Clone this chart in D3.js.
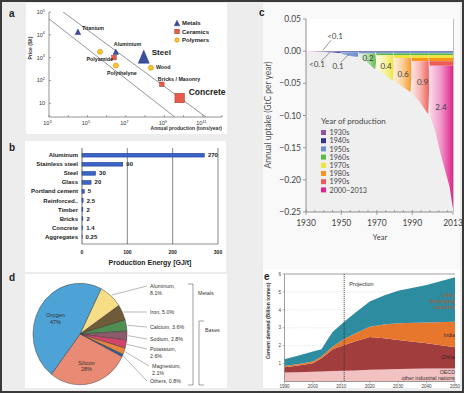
<!DOCTYPE html>
<html><head><meta charset="utf-8">
<script src="https://cdn.jsdelivr.net/npm/d3@7"></script>
<style>body{margin:0;background:#ededed}svg{display:block}</style>
</head><body><svg id="fig" width="464" height="393"></svg>
<script>
// ---------------- DATA ----------------
// Panel a: price vs annual production
const matNames = ["Titanium","Aluminium","Steel","Polyamide","Ceramic","Polythelyne","Wood","Bricks / Masonry","Concrete"];
const matClass = ["Metals","Metals","Metals","Polymers","Ceramics","Polymers","Polymers","Ceramics","Ceramics"];
const matProduction = [3.2e4, 3.0e6, 8.5e7, 4.5e5, 2.4e6, 3.0e6, 2.0e8, 7.4e8, 6.3e9];
const matPrice = [1.35e4, 1.8e3, 1.1e3, 1.8e3, 1.0e3, 4.5e2, 3.6e2, 68, 17];
const trendUpper = [[5.4e3, 1e5], [1.45e11, 2.5]];
const trendLower = [[1e3, 5e4], [3.5e9, 2.5]];
const classNames = ["Metals","Ceramics","Polymers"];
const aXTicks = [3,5,7,9,11];
const aYTicks = [1,2,3,4,5];

// Panel b: production energy
const energyMaterials = ["Aluminum","Stainless steel","Steel","Glass","Portland cement","Reinforced..","Timber","Bricks","Concrete","Aggregates"];
const energyValues = [270, 90, 30, 20, 5, 2.5, 2, 2, 1.4, 0.25];
const energyLabels = ["270","90","30","20","5","2.5","2","2","1.4","0.25"];
const energyTicks = [0, 100, 200, 300];

// Panel c: annual uptake by year of production (GtC per year)
const uptakeYears = [1930,1934,1939,1940,1944,1949,1950,1954,1959,1960,1964,1969,1970,1974,1979,1980,1984,1989,1990,1994,1999,2000,2003,2006,2009,2011,2013];
const cohortNames = ["1930s","1940s","1950s","1960s","1970s","1980s","1990s","2000–2013"];
const cohortStart = [1930,1940,1950,1960,1970,1980,1990,2000];
const cohortEnd = [1940,1950,1960,1970,1980,1990,2000,2013];
const cohortTotals = ["<0.1","<0.1","0.1","0.2","0.4","0.6","0.9","2.4"];
const u1930s = [0,-0.0005,-0.001,-0.0005,-0.0005,-0.0005,-0.0005,-0.0005,-0.0005,-0.0005,-0.0005,-0.0005,-0.0005,-0.0005,-0.0005,-0.0005,-0.0005,-0.0005,-0.0005,-0.0005,-0.0005,-0.0005,-0.0005,-0.0005,-0.0005,-0.0005,-0.0005];
const u1940s = [0,0,0,-0.0007,-0.001,-0.0025,-0.001,-0.001,-0.001,-0.001,-0.001,-0.001,-0.001,-0.001,-0.001,-0.001,-0.001,-0.001,-0.001,-0.001,-0.001,-0.001,-0.001,-0.001,-0.001,-0.001,-0.001];
const u1950s = [0,0,0,0,0,0,-0.0025,-0.0055,-0.0075,-0.002,-0.002,-0.002,-0.002,-0.002,-0.002,-0.002,-0.002,-0.002,-0.002,-0.002,-0.002,-0.002,-0.002,-0.002,-0.002,-0.002,-0.002];
const u1960s = [0,0,0,0,0,0,0,0,0,-0.0065,-0.0125,-0.0245,-0.003,-0.003,-0.003,-0.003,-0.003,-0.003,-0.003,-0.003,-0.003,-0.003,-0.003,-0.003,-0.003,-0.003,-0.003];
const u1970s = [0,0,0,0,0,0,0,0,0,0,0,0,-0.0225,-0.0295,-0.0395,-0.004,-0.004,-0.004,-0.004,-0.004,-0.004,-0.004,-0.004,-0.004,-0.004,-0.004,-0.004];
const u1980s = [0,0,0,0,0,0,0,0,0,0,0,0,0,0,0,-0.0365,-0.0435,-0.0535,-0.005,-0.005,-0.005,-0.005,-0.005,-0.005,-0.005,-0.005,-0.005];
const u1990s = [0,0,0,0,0,0,0,0,0,0,0,0,0,0,0,0,0,0,-0.0505,-0.0625,-0.0825,-0.007,-0.007,-0.007,-0.007,-0.007,-0.007];
const u2000s = [0,0,0,0,0,0,0,0,0,0,0,0,0,0,0,0,0,0,0,0,0,-0.0775,-0.1025,-0.1375,-0.1675,-0.1875,-0.2225];
const cYTicks = [0.05, 0, -0.05, -0.10, -0.15, -0.20, -0.25];
const cXTicks = [1930, 1950, 1970, 1990, 2013];

// Panel d: composition of Earth's crust
const pieNames = ["Aluminum","Iron","Calcium","Sodium","Potassium","Magnesium","Others","Silicon","Oxygen"];
const pieValues = [8.1, 5.0, 3.6, 2.8, 2.6, 2.1, 0.8, 28, 47];
const pieLabels = ["8.1%","5.0%","3.6%","2.8%","2.6%","2.1%","0.8%","28%","47%"];

// Panel e: cement demand (billion tonnes)
const demandYears = [1990,1995,2000,2003,2005,2007,2011,2015,2020,2025,2030,2040,2050];
const demandOECD  = [0.50,0.52,0.55,0.56,0.57,0.58,0.60,0.62,0.65,0.67,0.70,0.72,0.72];
const demandChina = [0.29,0.38,0.47,0.74,0.98,1.22,1.44,1.63,1.83,1.75,1.62,1.41,1.19];
const demandIndia = [0.08,0.08,0.10,0.10,0.13,0.15,0.33,0.45,0.58,0.76,0.93,1.17,1.43];
const demandOther = [0.37,0.47,0.55,0.40,0.62,0.83,0.97,1.15,1.40,1.62,1.82,2.09,2.48];
const eYTicks = [1,2,3,4,5,6];
const eXTicks = [1990,2000,2010,2020,2030,2040,2050];
const projectionYear = 2011;

// ---------------- DRAW ----------------
const svg = d3.select("#fig");
const defs = svg.append("defs");
svg.append("rect").attr("width",464).attr("height",393).attr("fill","#ededed");
[[26,3,201,131,"#fff"],[25,141,201,131,"#fff"],[263,3,197,298,"#f9f9f9"],[25,274,202,114,"#fff"],[263,269,197,119,"#fff"]]
  .forEach(p=>svg.append("rect").attr("x",p[0]).attr("y",p[1]).attr("width",p[2]).attr("height",p[3]).attr("fill",p[4]));

const AR = "Liberation Sans, Arial, sans-serif";
function plabel(t,x,y){svg.append("text").attr("x",x).attr("y",y).text(t).attr("font-family",AR).attr("font-weight","bold").attr("font-size",10).attr("fill","#222");}
plabel("a",9,17); plabel("b",9,151); plabel("c",259,16); plabel("d",9,281); plabel("e",264,280);

// ===== Panel a =====
(function(){
  const g = svg.append("g").attr("font-family",AR);
  const x = d3.scaleLog().domain([1e3,1e12]).range([49,222]);
  const y = d3.scaleLog().domain([2.5,1e5]).range([117,12]);
  defs.append("clipPath").attr("id","clipA").append("rect").attr("x",49).attr("y",12).attr("width",173).attr("height",105);
  const line = d3.line().x(d=>x(d[0])).y(d=>y(d[1]));
  [trendUpper,trendLower].forEach(t=>g.append("path").attr("d",line(t)).attr("clip-path","url(#clipA)")
      .attr("stroke","#8a8a8a").attr("stroke-width",0.9).attr("fill","none"));
  g.append("line").attr("x1",49).attr("x2",49).attr("y1",12).attr("y2",117).attr("stroke","#666").attr("stroke-width",0.7);
  g.append("line").attr("x1",49).attr("x2",222).attr("y1",117).attr("y2",117).attr("stroke","#666").attr("stroke-width",0.7);
  d3.range(3,13).forEach(e=>g.append("line").attr("x1",x(Math.pow(10,e))).attr("x2",x(Math.pow(10,e))).attr("y1",117).attr("y2",115).attr("stroke","#666").attr("stroke-width",0.6));
  d3.range(1,6).forEach(e=>g.append("line").attr("x1",49).attr("x2",51).attr("y1",y(Math.pow(10,e))).attr("y2",y(Math.pow(10,e))).attr("stroke","#666").attr("stroke-width",0.6));
  aXTicks.forEach(e=>{
    const t=g.append("text").attr("x",x(Math.pow(10,e))-1.5).attr("y",125).attr("text-anchor","middle").attr("font-size",5.5).attr("fill","#333");
    t.append("tspan").text("10"); t.append("tspan").attr("dy",-2.5).attr("font-size",4).text(e);
  });
  aYTicks.forEach(e=>{
    const t=g.append("text").attr("x",45).attr("y",y(Math.pow(10,e))+2).attr("text-anchor","end").attr("font-size",5.5).attr("fill","#333");
    t.append("tspan").text("10"); if(e>1){ t.append("tspan").attr("dy",-2.5).attr("font-size",4).text(e); }
  });
  g.append("text").attr("transform","translate(32,48) rotate(-90)").attr("text-anchor","middle").attr("font-size",5).attr("font-weight","bold").attr("fill","#333").text("Price ($/t)");
  g.append("text").attr("x",222).attr("y",130).attr("text-anchor","end").attr("font-size",5).attr("font-weight","bold").attr("fill","#333").text("Annual production (tons/year)");

  const sty = {Metals:{fill:"#3a4ea3",stroke:"#27346e"},Ceramics:{fill:"#e85a4c",stroke:"#a83428"},Polymers:{fill:"#f8c627",stroke:"#d58a12"}};
  const big = {Steel:[11,13],Concrete:[9.5,9.5]};
  function marker(cls,cx,cy,sz){
    const s=sty[cls];
    if(cls==="Metals"){const w=sz[0],h=sz[1];
      g.append("path").attr("d",`M${cx-w/2},${cy+h/2}L${cx+w/2},${cy+h/2}L${cx},${cy-h/2}Z`).attr("fill",s.fill).attr("stroke",s.stroke).attr("stroke-width",0.5);}
    else if(cls==="Ceramics"){const w=sz[0];
      g.append("rect").attr("x",cx-w/2).attr("y",cy-w/2).attr("width",w).attr("height",w).attr("fill",s.fill).attr("stroke",s.stroke).attr("stroke-width",0.5);}
    else g.append("circle").attr("cx",cx).attr("cy",cy).attr("r",sz[0]/2).attr("fill",s.fill).attr("stroke",s.stroke).attr("stroke-width",0.6);
  }
  matNames.forEach((n,i)=>{
    const cls=matClass[i];
    const sz = big[n] || (cls==="Metals"?[5.5,5.5]:cls==="Ceramics"?[4.5]:[5]);
    marker(cls,x(matProduction[i]),y(matPrice[i]),sz);
  });
  const lab = {
    "Titanium":[4,-2,"start",5.3], "Aluminium":[-2,-6,"start",5.3], "Steel":[8,-2,"start",8],
    "Polyamide":[13,9,"end",5.3], "Polythelyne":[6,9,"middle",5.3], "Wood":[5,1,"start",5.3],
    "Bricks / Masonry":[-4,-3,"start",5.3], "Concrete":[9,-3,"start",8.5]};
  matNames.forEach((n,i)=>{ const l=lab[n]; if(!l) return;
    g.append("text").attr("x",x(matProduction[i])+l[0]).attr("y",y(matPrice[i])+l[1]).attr("text-anchor",l[2])
     .attr("font-size",l[3]).attr("font-weight","bold").attr("fill","#222").text(n);
  });
  classNames.forEach((c,i)=>{
    const ly=23+i*8.5;
    marker(c,177,ly,c==="Metals"?[5.5,5.5]:[4.5]);
    g.append("text").attr("x",182).attr("y",ly+2).attr("font-size",6).attr("font-weight","bold").attr("fill","#222").text(c);
  });
})();

// ===== Panel b =====
(function(){
  const g = svg.append("g").attr("font-family",AR);
  const x = d3.scaleLinear().domain([0,300]).range([82,218]);
  const y = d3.scaleBand().domain(energyMaterials).range([148,244]).padding(0.58);
  energyTicks.forEach(t=>g.append("line").attr("x1",x(t)).attr("x2",x(t)).attr("y1",148).attr("y2",244).attr("stroke",t===0?"#444":"#555").attr("stroke-width",t===0?0.8:0.7));
  g.append("line").attr("x1",x(0)).attr("x2",x(300)).attr("y1",244).attr("y2",244).attr("stroke","#444").attr("stroke-width",0.6);
  g.selectAll("rect.bar").data(energyValues).enter().append("rect").attr("class","bar")
    .attr("x",x(0)).attr("y",(d,i)=>y(energyMaterials[i])).attr("width",d=>x(d)-x(0)).attr("height",y.bandwidth())
    .attr("fill","#3a63c6").attr("stroke","#1d3d8f").attr("stroke-width",0.5);
  energyMaterials.forEach((m,i)=>{
    const cy=y(m)+y.bandwidth()/2+2;
    g.append("text").attr("x",78).attr("y",cy).attr("text-anchor","end").attr("font-size",6).attr("font-weight","bold").attr("fill","#222").text(m);
    g.append("text").attr("x",x(energyValues[i])+3.5).attr("y",cy).attr("font-size",6).attr("font-weight","bold").attr("fill","#222").text(energyLabels[i]);
  });
  energyTicks.forEach(t=>g.append("text").attr("x",x(t)).attr("y",254).attr("text-anchor","middle").attr("font-size",5).attr("font-weight","bold").attr("fill","#222").text(t));
  g.append("text").attr("x",150).attr("y",265).attr("text-anchor","middle").attr("font-size",7).attr("font-weight","bold").attr("fill","#222").text("Production Energy [GJ/t]");
})();

// ===== Panel c =====
(function(){
  const F = "Lato, 'Open Sans', sans-serif";
  const g = svg.append("g").attr("font-family",F);
  const x = d3.scaleLinear().domain([1930,2013]).range([306,453]);
  const y = d3.scaleLinear().domain([-0.25,0.05]).range([212,19]);
  g.append("rect").attr("x",306).attr("y",y(0.05)).attr("width",147).attr("height",y(0)-y(0.05)).attr("fill","#fff");
  g.append("rect").attr("x",306).attr("y",y(0)).attr("width",147).attr("height",y(-0.25)-y(0)).attr("fill","#efefef");
  const colors = ["#94509f","#2f3490","#6b8fd2","#5cb947","#eee43a","#f7941e","#ef5b52","#e0248c"];
  const series = [u1930s,u1940s,u1950s,u1960s,u1970s,u1980s,u1990s,u2000s];
  const rows = uptakeYears.map((yr,i)=>{const o={year:yr}; cohortNames.forEach((c,k)=>o[c]=series[k][i]); return o;});
  const stack = d3.stack().keys(cohortNames).offset(d3.stackOffsetDiverging)(rows);
  const area = d3.area().x(d=>x(d.data.year)).y0(d=>y(d[0])).y1(d=>y(d[1]));
  stack.forEach((s,k)=>{
    const gid="gc"+k;
    const gr=defs.append("linearGradient").attr("id",gid).attr("gradientUnits","userSpaceOnUse")
      .attr("x1",x(cohortStart[k])).attr("x2",x(cohortEnd[k])).attr("y1",0).attr("y2",0);
    gr.append("stop").attr("offset",0).attr("stop-color",d3.interpolateRgb(colors[k],"#fff")(k<3?0.3:0.82));
    gr.append("stop").attr("offset",0.45).attr("stop-color",d3.interpolateRgb(colors[k],"#fff")(k<3?0.15:0.55));
    gr.append("stop").attr("offset",1).attr("stop-color",colors[k]);
    g.append("path").attr("d",area(s)).attr("fill",`url(#${gid})`);
  });
  // axes
  g.append("line").attr("x1",306).attr("x2",306).attr("y1",19).attr("y2",212).attr("stroke","#777").attr("stroke-width",0.8);
  g.append("line").attr("x1",306).attr("x2",453).attr("y1",212).attr("y2",212).attr("stroke","#777").attr("stroke-width",0.8);
  g.append("line").attr("x1",453.5).attr("x2",453.5).attr("y1",19).attr("y2",212).attr("stroke","#999").attr("stroke-width",0.6);
  const fmt = d3.format(".2f");
  cYTicks.forEach(v=>{
    g.append("line").attr("x1",303).attr("x2",306).attr("y1",y(v)).attr("y2",y(v)).attr("stroke","#777").attr("stroke-width",0.7);
    g.append("text").attr("x",301).attr("y",y(v)+3).attr("text-anchor","end").attr("font-size",8.5).attr("fill","#444").text(fmt(v));
  });
  d3.range(1930,2014,5).forEach(t=>g.append("line").attr("x1",x(t)).attr("x2",x(t)).attr("y1",212).attr("y2",210).attr("stroke","#777").attr("stroke-width",0.6));
  cXTicks.forEach(t=>{
    g.append("line").attr("x1",x(t)).attr("x2",x(t)).attr("y1",212).attr("y2",215).attr("stroke","#777").attr("stroke-width",0.6);
    g.append("text").attr("x",x(t)).attr("y",226).attr("text-anchor","middle").attr("font-size",8.5).attr("fill","#444").text(t);
  });
  g.append("text").attr("x",380).attr("y",240).attr("text-anchor","middle").attr("font-size",7.5).attr("fill","#444").text("Year");
  g.append("text").attr("transform","translate(271,115) rotate(-90)").attr("text-anchor","middle").attr("font-size",8.5).attr("fill","#555").text("Annual uptake (GtC per year)");
  // legend
  g.append("text").attr("x",321).attr("y",124).attr("font-size",8).attr("fill","#444").text("Year of production");
  cohortNames.forEach((c,k)=>{
    const ly=132.5+k*8.2;
    g.append("rect").attr("x",321).attr("y",ly-2.5).attr("width",5).attr("height",5).attr("fill",colors[k]);
    g.append("text").attr("x",329.5).attr("y",ly+2.6).attr("font-size",7.2).attr("fill","#444").text(c);
  });
  // cohort cumulative labels (positioned in data coordinates)
  const labPos = [[1946.4,0.019],[1936.2,-0.0249],[1948.1,-0.028],[1965,-0.0155],[1975.2,-0.028],[1984.8,-0.0404],[1995.8,-0.0528],[2006.2,-0.0917]];
  const leaders = [[[1944.1,0.017],[1939.6,0.0016]],[[1938.5,-0.0155],[1943.6,-0.0016]],[[1949.8,-0.0171],[1954.8,-0.0031]]];
  cohortTotals.forEach((t,k)=>{
    g.append("text").attr("x",x(labPos[k][0])).attr("y",y(labPos[k][1])).attr("text-anchor","middle").attr("font-size",8).attr("fill","#444").text(t);
  });
  leaders.forEach(l=>g.append("line").attr("x1",x(l[0][0])).attr("y1",y(l[0][1])).attr("x2",x(l[1][0])).attr("y2",y(l[1][1])).attr("stroke","#555").attr("stroke-width",0.6));
})();

// ===== Panel d =====
(function(){
  const g = svg.append("g").attr("font-family",AR);
  const cx=80, cy=334, r=47, sy=1.08;
  const start = 26.7*Math.PI/180;
  const pie = d3.pie().sort(null).value(d=>d).startAngle(start).endAngle(start+2*Math.PI)(pieValues);
  const colors = ["#f7dd85","#6d5b3a","#4f8d51","#8c5b6b","#d1456b","#e8843c","#2d62a3","#e98a74","#4da2d6"];
  const arc = d3.arc().innerRadius(0).outerRadius(r);
  const pg = g.append("g").attr("transform",`translate(${cx},${cy}) scale(1,${sy})`);
  pie.forEach((p,i)=>pg.append("path").attr("d",arc(p)).attr("fill",colors[i]).attr("stroke","#333").attr("stroke-width",0.45).attr("vector-effect","non-scaling-stroke"));
  const lx = [150,150,150,150,150,152,150];
  const ly = [288,314,329,341,351,368,383];
  const twoLine = {Aluminum:1,Potassium:1,Magnesium:1};
  pieNames.forEach((n,i)=>{
    const p=pie[i], a=(p.startAngle+p.endAngle)/2;
    if(i<7){
      const ex=cx+Math.sin(a)*(r+1), ey=cy-Math.cos(a)*(r+1)*sy;
      g.append("line").attr("x1",ex).attr("y1",ey).attr("x2",lx[i]-3).attr("y2",ly[i]-2).attr("stroke","#888").attr("stroke-width",0.6);
      const t=g.append("text").attr("x",lx[i]).attr("y",ly[i]).attr("font-size",5.3).attr("fill","#333");
      if(twoLine[n]){ t.append("tspan").text(n+","); t.append("tspan").attr("x",lx[i]).attr("dy",6.5).text(pieLabels[i]); }
      else t.text(n+", "+pieLabels[i]);
    } else {
      const rr = 29;
      const tx=cx+Math.sin(a)*rr, ty=cy-Math.cos(a)*rr*sy;
      const t=g.append("text").attr("x",tx).attr("y",ty).attr("text-anchor","middle").attr("font-size",5.5).attr("fill","#333");
      t.append("tspan").text(n); t.append("tspan").attr("x",tx).attr("dy",6.5).text(pieLabels[i]);
    }
  });
  const br = (x,y1,y2,dir)=>g.append("path").attr("d",`M${x+dir*5},${y1}H${x}V${y2}H${x+dir*5}`).attr("fill","none").attr("stroke","#777").attr("stroke-width",0.7);
  br(193,284,385,-1);
  br(199,321,385,1);
  g.append("text").attr("x",198).attr("y",295).attr("font-size",5.3).attr("fill","#333").text("Metals");
  g.append("text").attr("x",205).attr("y",332).attr("font-size",5.3).attr("fill","#333").text("Bases");
})();

// ===== Panel e =====
(function(){
  const g = svg.append("g").attr("font-family",AR);
  const x = d3.scaleLinear().domain([1990,2050]).range([284.5,455]);
  const y = d3.scaleLinear().domain([0,6]).range([381.5,274]);
  eYTicks.slice(0,5).forEach(t=>g.append("line").attr("x1",284.5).attr("x2",455).attr("y1",y(t)).attr("y2",y(t)).attr("stroke","#d8d8d8").attr("stroke-width",0.5).attr("stroke-dasharray","1.5,1"));
  const keys=["OECD","China","India","Other"];
  const rows = demandYears.map((yr,i)=>({year:yr,OECD:demandOECD[i],China:demandChina[i],India:demandIndia[i],Other:demandOther[i]}));
  const st = d3.stack().keys(keys)(rows);
  const colors = {OECD:"#f2c2c2",China:"#a23d3e",India:"#e8772e",Other:"#2e8ca0"};
  const area = d3.area().x(d=>x(d.data.year)).y0(d=>y(d[0])).y1(d=>y(d[1]));
  st.forEach(s=>g.append("path").attr("d",area(s)).attr("fill",colors[s.key]));
  g.append("line").attr("x1",284.5).attr("x2",455).attr("y1",y(6)).attr("y2",y(6)).attr("stroke","#777").attr("stroke-width",0.7);
  g.append("line").attr("x1",284.5).attr("x2",284.5).attr("y1",y(6)).attr("y2",y(0)).attr("stroke","#777").attr("stroke-width",0.7);
  g.append("line").attr("x1",284.5).attr("x2",455).attr("y1",y(0)).attr("y2",y(0)).attr("stroke","#777").attr("stroke-width",0.7);
  g.append("line").attr("x1",x(projectionYear)).attr("x2",x(projectionYear)).attr("y1",y(6)).attr("y2",y(0)).attr("stroke","#333").attr("stroke-width",0.8).attr("stroke-dasharray","1.2,0.8");
  g.append("text").attr("x",x(projectionYear)+5).attr("y",286).attr("font-size",5.5).attr("fill","#333").text("Projection");
  eYTicks.forEach(t=>{
    g.append("line").attr("x1",282.5).attr("x2",284.5).attr("y1",y(t)).attr("y2",y(t)).attr("stroke","#777").attr("stroke-width",0.5);
    g.append("text").attr("x",281).attr("y",y(t)+1.7).attr("text-anchor","end").attr("font-size",4.6).attr("fill","#444").text(t);
  });
  eXTicks.forEach(t=>{
    g.append("line").attr("x1",x(t)).attr("x2",x(t)).attr("y1",y(0)).attr("y2",y(0)+2).attr("stroke","#777").attr("stroke-width",0.5);
    g.append("text").attr("x",x(t)).attr("y",388).attr("text-anchor","middle").attr("font-size",4.6).attr("fill","#444").text(t);
  });
  g.append("text").attr("transform","translate(270,321) rotate(-90)").attr("text-anchor","middle").attr("font-size",5).attr("font-weight","bold").attr("fill","#333").text("Cement demand (Billion tonnes)");
  const tl=(t,xx,yy,c)=>g.append("text").attr("x",xx).attr("y",yy).attr("text-anchor","end").attr("font-size",5.3).attr("fill",c).text(t);
  tl("Other",455,297,"#b4582a"); tl("developing",455,303,"#b4582a"); tl("countries",455,309,"#b4582a");
  tl("India",455,337,"#3a2a2a"); tl("China",455,359,"#3a2020");
  tl("OECD",455,374,"#333"); tl("other industrial nations",455,379.5,"#333");
})();

// outer border
svg.append("rect").attr("x",1).attr("y",1).attr("width",462).attr("height",391).attr("fill","none").attr("stroke","#3a3a3a").attr("stroke-width",2);
</script></body></html>
